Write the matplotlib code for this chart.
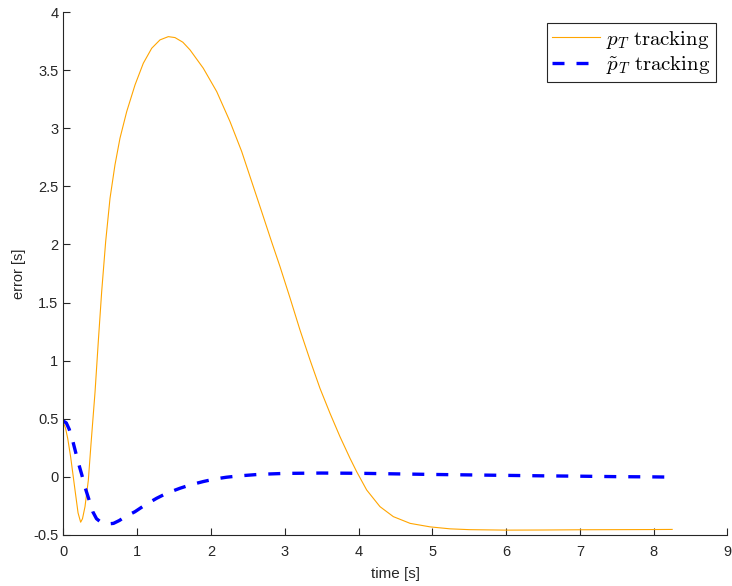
import matplotlib
matplotlib.use("Agg")
import matplotlib.pyplot as plt

plt.rcParams["font.family"] = ["Liberation Sans", "DejaVu Sans"]
plt.rcParams["mathtext.fontset"] = "cm"

# p_T tracking error
t_p = [0.00, 0.03, 0.06, 0.10, 0.158, 0.20, 0.235, 0.26, 0.294, 0.339, 0.375,
       0.43, 0.474, 0.52, 0.574, 0.633, 0.70, 0.768, 0.859, 0.972, 1.084,
       1.198, 1.31, 1.423, 1.513, 1.62, 1.717, 1.897, 2.079, 2.259, 2.417,
       2.553, 2.688, 2.824, 2.936, 3.072, 3.207, 3.343, 3.478, 3.614, 3.749,
       3.885, 3.975, 4.111, 4.291, 4.472, 4.70, 4.97, 5.24, 5.5, 6.0, 6.5,
       7.0, 7.5, 8.0, 8.25]
e_p = [0.47, 0.42, 0.33, 0.17, -0.11, -0.31, -0.39, -0.36, -0.256, -0.03, 0.28,
       0.73, 1.163, 1.594, 2.024, 2.397, 2.684, 2.914, 3.143, 3.373, 3.559,
       3.688, 3.76, 3.788, 3.78, 3.74, 3.674, 3.516, 3.315, 3.057, 2.80,
       2.54, 2.282, 2.02, 1.81, 1.54, 1.264, 1.006, 0.762, 0.547, 0.346,
       0.16, 0.045, -0.113, -0.256, -0.342, -0.40, -0.43, -0.447, -0.454,
       -0.458, -0.457, -0.455, -0.454, -0.453, -0.452]

# p~_T tracking error
t_q = [0.0, 0.04, 0.08, 0.12, 0.16, 0.20, 0.25, 0.30, 0.35, 0.40, 0.45, 0.52,
       0.60, 0.68, 0.76, 0.84, 0.97, 1.107, 1.265, 1.40, 1.58, 1.715, 1.897,
       2.055, 2.21, 2.37, 2.66, 3.0, 3.5, 4.0, 4.5, 5.0, 5.5, 6.0, 6.5, 7.0,
       7.5, 8.0, 8.25]
e_q = [0.48, 0.465, 0.41, 0.33, 0.23, 0.13, 0.02, -0.10, -0.20, -0.30, -0.36,
       -0.395, -0.405, -0.40, -0.375, -0.342, -0.30, -0.242, -0.184, -0.141,
       -0.098, -0.07, -0.04, -0.018, -0.003, 0.008, 0.022, 0.03, 0.033, 0.031,
       0.026, 0.021, 0.017, 0.013, 0.009, 0.006, 0.002, 0.0, -0.002]

fig = plt.figure(figsize=(7.32, 5.86), dpi=100)
ax = fig.add_axes([63.3 / 732, 51 / 586, (727.5 - 63.3) / 732, (535 - 12) / 586])

ax.plot(t_p, e_p, color="#FFA500", lw=0.8, label=r"$p_T\ \mathrm{tracking}$")
ax.plot(t_q, e_q, color="#0000FF", lw=2.4, dashes=(3.6, 3.6),
        label=r"$\tilde{p}_T\ \mathrm{tracking}$")

ax.set_xlim(0, 9)
ax.set_ylim(-0.5, 4)
ax.set_xticks(range(0, 10))
ax.set_yticks([-0.5, 0, 0.5, 1, 1.5, 2, 2.5, 3, 3.5, 4])
ax.set_yticklabels(["-0.5", "0", "0.5", "1", "1.5", "2", "2.5", "3", "3.5", "4"])

for s in ["top", "right"]:
    ax.spines[s].set_visible(False)
for s in ["left", "bottom"]:
    ax.spines[s].set_color("#262626")
    ax.spines[s].set_linewidth(0.8)
ax.tick_params(direction="in", length=5, width=0.8, color="#262626",
               labelsize=10.5, labelcolor="#262626")
ax.tick_params(axis="x", pad=7)

ax.set_xlabel("time [s]", fontsize=11, color="#262626", labelpad=6)
ax.set_ylabel("error [s]", fontsize=10.5, color="#262626", labelpad=5)

leg = ax.legend(loc="upper right", fontsize=15, fancybox=False, framealpha=1,
                edgecolor="#262626", borderaxespad=0.55, handlelength=2.3,
                handletextpad=0.3, borderpad=0.25, labelspacing=0.18)
leg.get_frame().set_linewidth(0.8)

fig.savefig("out.png", dpi=100)
